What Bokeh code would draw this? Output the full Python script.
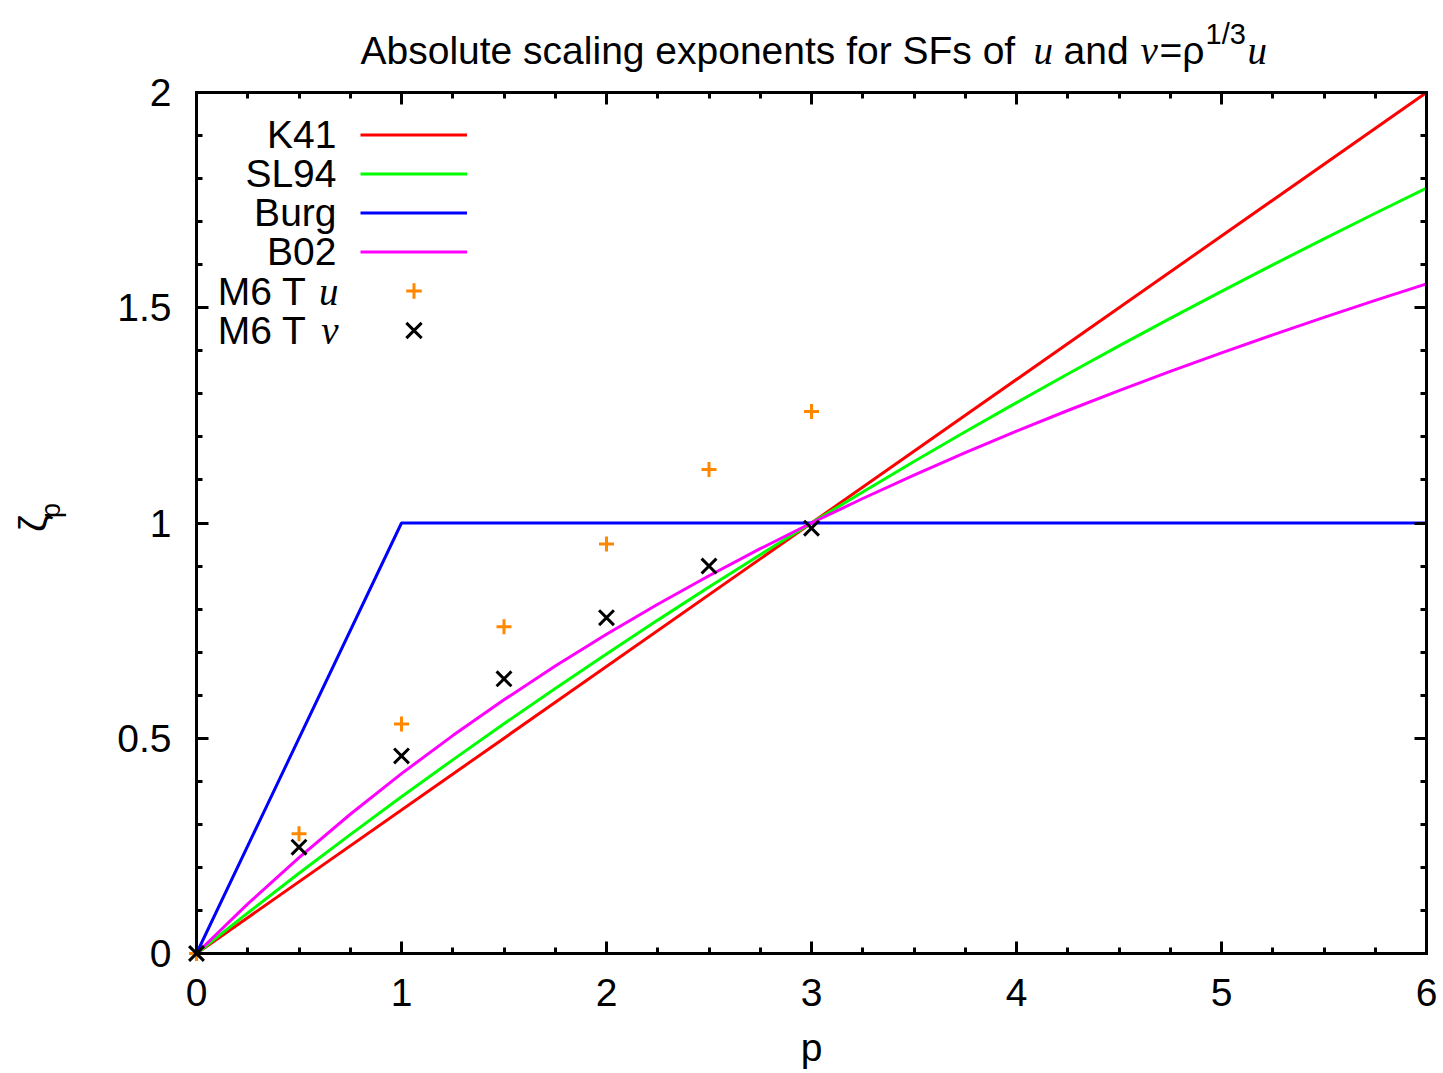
import math
from bokeh.plotting import figure
from bokeh.models import (Range1d, FixedTicker, LinearAxis, Label, Legend, LegendItem,
                          CustomJSTickFormatter)
from bokeh.embed import file_html
from bokeh.resources import INLINE

# ---------------- data ----------------
p_k41 = [0, 6]
zeta_k41 = [0, 2]

p_burg = [0, 1, 6]
zeta_burg = [0, 1, 1]

p_model = [0, 0.25, 0.5, 0.75, 1, 1.25, 1.5, 1.75, 2, 2.25, 2.5, 2.75, 3,
           3.25, 3.5, 3.75, 4, 4.25, 4.5, 4.75, 5, 5.25, 5.5, 5.75, 6]
zeta_sl94 = [0, 0.0942, 0.1863, 0.2761, 0.3640, 0.4498, 0.5337, 0.6157, 0.6959,
             0.7744, 0.8512, 0.9264, 1.0, 1.0721, 1.1427, 1.2119, 1.2797, 1.3462,
             1.4113, 1.4753, 1.5380, 1.5996, 1.6601, 1.7195, 1.7778]
zeta_b02 = [0, 0.1153, 0.2229, 0.3235, 0.4178, 0.5062, 0.5893, 0.6676, 0.7415,
            0.8113, 0.8775, 0.9403, 1.0, 1.0569, 1.1113, 1.1634, 1.2133, 1.2613,
            1.3076, 1.3522, 1.3953, 1.4371, 1.4777, 1.5171, 1.5556]

p_m6 = [0, 0.5, 1, 1.5, 2, 2.5, 3]
zeta_m6_u = [0, 0.278, 0.533, 0.759, 0.951, 1.124, 1.259]
zeta_m6_v = [0, 0.247, 0.459, 0.638, 0.780, 0.900, 0.988]

x_ticks = [0, 1, 2, 3, 4, 5, 6]
x_tick_labels = ["0", "1", "2", "3", "4", "5", "6"]
x_minor = [0, 0.25, 0.5, 0.75, 1, 1.25, 1.5, 1.75, 2, 2.25, 2.5, 2.75, 3, 3.25,
           3.5, 3.75, 4, 4.25, 4.5, 4.75, 5, 5.25, 5.5, 5.75, 6]
y_ticks = [0, 0.5, 1, 1.5, 2]
y_tick_labels = ["0", "0.5", "1", "1.5", "2"]
y_minor = [0, 0.1, 0.2, 0.3, 0.4, 0.5, 0.6, 0.7, 0.8, 0.9, 1.0, 1.1, 1.2, 1.3,
           1.4, 1.5, 1.6, 1.7, 1.8, 1.9, 2.0]
X_MIN, X_MAX = 0, 6
Y_MIN, Y_MAX = 0, 2

legend_texts = ["K41", "SL94", "Burg", "B02"]
legend_sym_texts = ["u", "v"]
series_colors = ["#ff0000", "#00ff00", "#0000ff", "#ff00ff"]
orange = "#ff8800"

FONT = "Liberation Sans"
MATH = "Liberation Serif"
FS = "39px"

# ---------------- canvas geometry (pixels) ----------------
W, H = 1441, 1071
FRAME_L, FRAME_R, FRAME_T, FRAME_B = 196, 1426, 92, 953
XS = (FRAME_R - FRAME_L) / (X_MAX - X_MIN)
YS = (FRAME_B - FRAME_T) / (Y_MAX - Y_MIN)


def dx(px):
    return X_MIN + (px - FRAME_L) / XS


def dy(py):
    return Y_MIN + (FRAME_B - py) / YS


p = figure(width=W, height=H, min_border=0, title=None,
           x_range=Range1d(dx(0), dx(W)), y_range=Range1d(dy(H), dy(0)),
           output_backend="svg", toolbar_location=None,
           x_axis_location=None, y_axis_location=None)
p.xgrid.visible = False
p.ygrid.visible = False
p.outline_line_color = None
p.background_fill_color = "white"
p.border_fill_color = "white"

xt = FixedTicker(ticks=x_ticks, minor_ticks=x_minor)
yt = FixedTicker(ticks=y_ticks, minor_ticks=y_minor)


def style_axis(ax, show_labels):
    ax.axis_line_width = 3
    ax.axis_line_color = "black"
    ax.axis_line_cap = "square"
    ax.major_tick_in = 12
    ax.major_tick_out = 0
    ax.minor_tick_in = 6
    ax.minor_tick_out = 0
    ax.major_tick_line_width = 3
    ax.minor_tick_line_width = 3
    ax.major_label_text_font = FONT
    ax.major_label_text_color = "black"
    if show_labels:
        ax.major_label_text_font_size = FS
    else:
        ax.formatter = CustomJSTickFormatter(code="return '';")
        ax.major_label_text_font_size = "1px"
        ax.major_label_standoff = 0


xb = LinearAxis(ticker=xt, fixed_location=Y_MIN, bounds=(X_MIN, X_MAX),
                major_label_overrides=dict(zip(x_ticks, x_tick_labels)))
style_axis(xb, True)
xb.major_label_standoff = 25
xb.axis_label = "p"
xb.axis_label_text_font = FONT
xb.axis_label_text_font_size = FS
xb.axis_label_text_font_style = "normal"
xb.axis_label_text_color = "black"
xb.axis_label_standoff = 17
p.add_layout(xb, "below")

yl = LinearAxis(ticker=yt, fixed_location=X_MIN, bounds=(Y_MIN, Y_MAX),
                major_label_overrides=dict(zip(y_ticks, y_tick_labels)))
style_axis(yl, True)
yl.major_label_standoff = 25
p.add_layout(yl, "left")

xa = LinearAxis(ticker=xt, fixed_location=Y_MAX, bounds=(X_MIN, X_MAX))
style_axis(xa, False)
p.add_layout(xa, "above")
yr = LinearAxis(ticker=yt, fixed_location=X_MAX, bounds=(Y_MIN, Y_MAX))
style_axis(yr, False)
p.add_layout(yr, "right")

# ---------------- data renderers ----------------
lw = 3
r_k41 = p.line(p_k41, zeta_k41, line_color=series_colors[0], line_width=lw)
r_sl = p.line(p_model, zeta_sl94, line_color=series_colors[1], line_width=lw)
r_burg = p.line(p_burg, zeta_burg, line_color=series_colors[2], line_width=lw)
r_b02 = p.line(p_model, zeta_b02, line_color=series_colors[3], line_width=lw)
r_u = p.scatter(p_m6, zeta_m6_u, marker="cross", size=15, line_color=orange, line_width=3)
r_v = p.scatter(p_m6, zeta_m6_v, marker="x", size=21, line_color="black", line_width=3)

# ---------------- legend: samples by Bokeh Legend, texts to their left ----------------
ROW_H = 39
row_y = [134, 173, 212, 251, 291, 330]
legend = Legend(items=[LegendItem(label="", renderers=[r]) for r in
                       [r_k41, r_sl, r_burg, r_b02, r_u]],
                location=(360, H - (row_y[0] - ROW_H / 2 + 5 * ROW_H)),
                glyph_width=107, glyph_height=ROW_H,
                label_height=ROW_H, label_width=0, label_standoff=0, spacing=0,
                padding=0, margin=0, background_fill_alpha=0, border_line_alpha=0,
                label_text_font_size="1px")
p.add_layout(legend)
# the "x" marker is drawn smaller by Bokeh at equal size, so its sample gets a taller box
XBOX = 54
legend_x = Legend(items=[LegendItem(label="", renderers=[r_v])],
                  location=(360, H - (row_y[5] + XBOX / 2)),
                  glyph_width=107, glyph_height=XBOX,
                  label_height=XBOX, label_width=0, label_standoff=0, spacing=0,
                  padding=0, margin=0, background_fill_alpha=0, border_line_alpha=0,
                  label_text_font_size="1px")
p.add_layout(legend_x)

for t, ry in zip(legend_texts, row_y[:4]):
    p.add_layout(Label(x=dx(336), y=dy(ry), text=t, text_align="right",
                       text_baseline="middle", text_font=FONT, text_font_size=FS,
                       text_color="black"))
for sym, ry in zip(legend_sym_texts, row_y[4:]):
    p.add_layout(Label(x=dx(338), y=dy(ry), text=sym, text_align="right",
                       text_baseline="middle", text_font=MATH, text_font_style="italic",
                       text_font_size=FS, text_color="black"))
    p.add_layout(Label(x=dx(306), y=dy(ry), text="M6 T", text_align="right",
                       text_baseline="middle", text_font=FONT, text_font_size=FS,
                       text_color="black"))

# ---------------- y label (rotated zeta_p) ----------------
p.add_layout(Label(x=dx(32), y=dy(523), text="ζ", angle=math.pi / 2, text_align="center",
                   text_baseline="middle", text_font=FONT, text_font_size=FS,
                   text_color="black"))
p.add_layout(Label(x=dx(50), y=dy(510), text="p", angle=math.pi / 2, text_align="center",
                   text_baseline="middle", text_font=FONT, text_font_size="27px",
                   text_color="black"))

# ---------------- title ----------------
title_parts = [
    ("Absolute scaling exponents for SFs of", 360, 50, FONT, "normal", FS),
    ("u", 1033, 50, MATH, "italic", FS),
    ("and", 1063, 50, FONT, "normal", FS),
    ("v", 1140, 50, MATH, "italic", FS),
    ("=ρ", 1159, 50, FONT, "normal", FS),
    ("1/3", 1205, 33, FONT, "normal", "29px"),
    ("u", 1247, 50, MATH, "italic", FS),
]
for txt, px, py, fnt, sty, fs in title_parts:
    p.add_layout(Label(x=dx(px), y=dy(py), text=txt, text_align="left",
                       text_baseline="alphabetic", text_font=fnt,
                       text_font_style=sty, text_font_size=fs, text_color="black"))

open("out.html", "w").write(file_html(p, INLINE))
